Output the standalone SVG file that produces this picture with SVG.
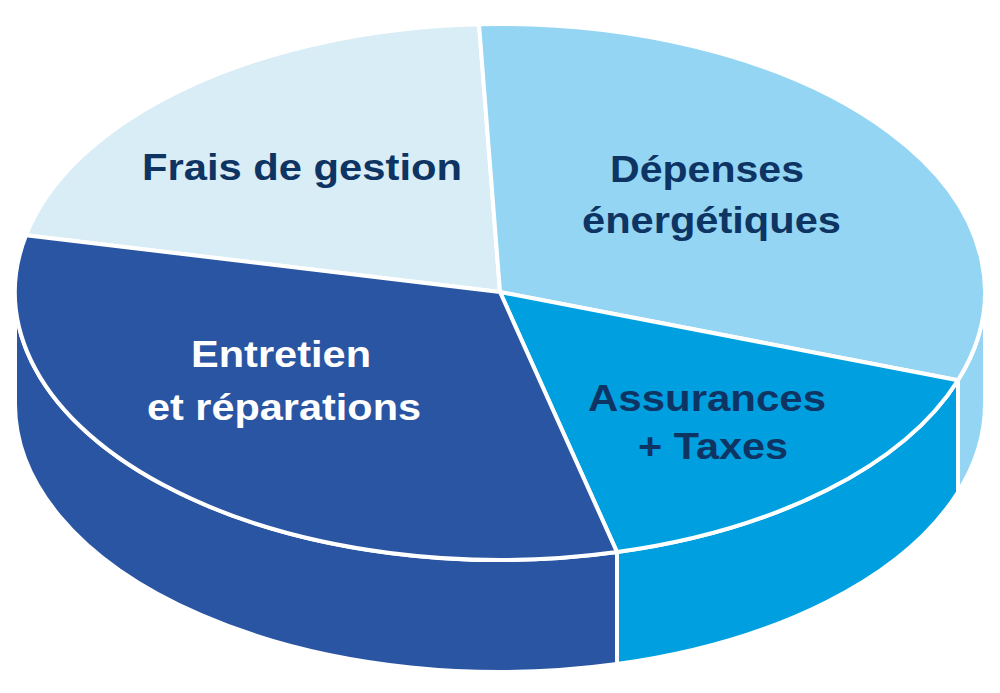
<svg xmlns="http://www.w3.org/2000/svg" width="1000" height="693" viewBox="0 0 1000 693">
<style>
.edge{stroke:#ffffff;stroke-width:4;stroke-linejoin:round}
.c1{fill:#d9edf6}
.c2{fill:#94d5f4}
.c3{fill:#2a55a2}
.c4{fill:#00a0e0}
.lbl{font-family:"Liberation Sans",Arial,sans-serif;font-weight:bold;font-size:37px}
.dark{fill:#0d3462}
.light{fill:#ffffff}
</style>
<rect width="1000" height="693" fill="#ffffff"/>
<g id="sides">
<path class="c3 edge" d="M15 292 L15 404 A485 268 0 0 0 617 664.1 L617 552.1 A485 268 0 0 1 15 292 Z"/>
<path class="c4 edge" d="M617 552.1 L617 664.1 A485 268 0 0 0 958 492.2 L958 380.2 A485 268 0 0 1 617 552.1 Z"/>
<path class="c2 edge" d="M958 380.2 L958 492.2 A485 268 0 0 0 985 404 L985 292 A485 268 0 0 1 958 380.2 Z"/>
</g>
<g id="frais">
<path class="c1 edge" d="M500 292 L479 24.3 A485 268 0 0 0 26 235.2 Z"/>
<text class="lbl dark" x="142" y="179.5" textLength="320" lengthAdjust="spacingAndGlyphs">Frais de gestion</text>
</g>
<g id="depenses">
<path class="c2 edge" d="M500 292 L958 380.2 A485 268 0 0 0 479 24.3 Z"/>
<text class="lbl dark" x="610" y="182" textLength="194" lengthAdjust="spacingAndGlyphs">Dépenses</text>
<text class="lbl dark" x="582" y="233" textLength="259" lengthAdjust="spacingAndGlyphs">énergétiques</text>
</g>
<g id="assurances">
<path class="c4 edge" d="M500 292 L617 552.1 A485 268 0 0 0 958 380.2 Z"/>
<text class="lbl dark" x="588" y="411" textLength="238" lengthAdjust="spacingAndGlyphs">Assurances</text>
<text class="lbl dark" x="638" y="459" textLength="150" lengthAdjust="spacingAndGlyphs">+ Taxes</text>
</g>
<g id="entretien">
<path class="c3 edge" d="M500 292 L26 235.2 A485 268 0 0 0 617 552.1 Z"/>
<text class="lbl light" x="191" y="367" textLength="180" lengthAdjust="spacingAndGlyphs">Entretien</text>
<text class="lbl light" x="147" y="420" textLength="274" lengthAdjust="spacingAndGlyphs">et réparations</text>
</g>
<g id="connectors"></g>
</svg>
